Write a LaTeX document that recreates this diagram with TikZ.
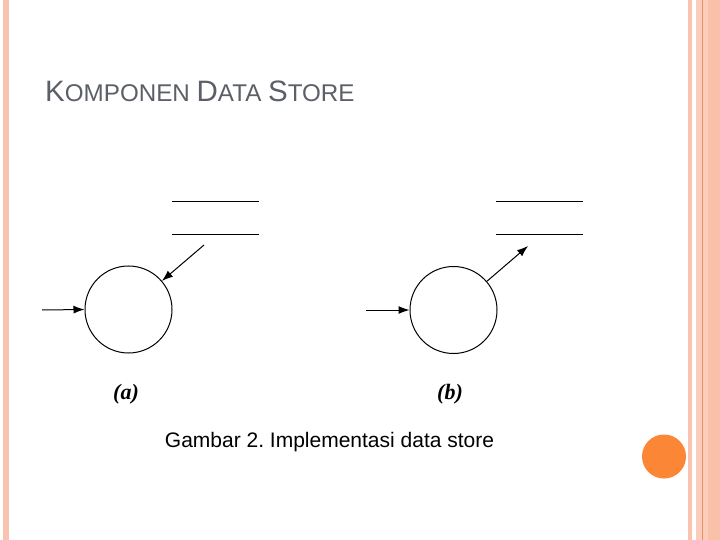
\documentclass[tikz,border=0pt]{standalone}
\usepackage{fontspec}
\setmainfont{Liberation Serif}
\newfontfamily\arialf{Liberation Sans}
\usetikzlibrary{arrows.meta}
\frenchspacing
\definecolor{stripe}{HTML}{F8C4B0}
\definecolor{band}{HTML}{FBCDBB}
\definecolor{bandb}{HTML}{F9C0AA}
\definecolor{bandline}{HTML}{E98E64}
\definecolor{dotor}{HTML}{FA8636}
\definecolor{titlegray}{HTML}{5B6068}
\tikzset{
  proc/.style={circle,draw=black,line width=1pt,minimum size=87pt,inner sep=0pt},
  flow/.style={line width=1pt,-{Latex[length=11pt,width=8pt]}},
  storeline/.style={line width=1pt},
  sublabel/.style={font=\fontsize{22}{24}\selectfont\bfseries\itshape,anchor=base},
}
\begin{document}
\begin{tikzpicture}[x=1pt,y=-1pt]
\useasboundingbox (0,0) rectangle (720,540);
\fill[white] (0,0) rectangle (720,540);
% decorative stripes
\fill[stripe] (3,0) rectangle (9,540);
\fill[stripe] (688,0) rectangle (692,540);
\fill[band] (696,0) rectangle (720,540);
\fill[bandb] (708,0) rectangle (720,540);
\fill[bandline] (701.8,0) rectangle (703.2,540);
\fill[dotor] (664,456.5) circle (22);
% title
\node[anchor=base west,inner sep=0pt,text=titlegray,font=\arialf] (title) at (45,102)
  {\fontsize{29.5}{30}\selectfont K\fontsize{24.2}{30}\selectfont OMPONEN \fontsize{29.5}{30}\selectfont D\fontsize{24.2}{30}\selectfont ATA \fontsize{29.5}{30}\selectfont S\fontsize{24.2}{30}\selectfont TORE};
% (a)
\node[proc] (ca) at (128.5,309.5) {};
\coordinate (a1l) at (172,202); \coordinate (a1r) at (259,202);
\coordinate (a2l) at (172,234); \coordinate (a2r) at (259,234);
\draw[storeline] (a1l) -- (a1r);
\draw[storeline] (a2l) -- (a2r);
\coordinate (ain) at (42,310);
\coordinate (asrc) at (204,245);
\draw[flow] (ain) -- (ca.west);
\draw[flow] (asrc) -- (ca);
\node[sublabel] (la) at (126,399) {(a)};
% (b)
\node[proc] (cb) at (453.5,310) {};
\coordinate (b1l) at (496,202); \coordinate (b1r) at (583,202);
\coordinate (b2l) at (496,234); \coordinate (b2r) at (583,234);
\draw[storeline] (b1l) -- (b1r);
\draw[storeline] (b2l) -- (b2r);
\coordinate (bin) at (366,310);
\coordinate (bdst) at (528,246);
\draw[flow] (bin) -- (cb.west);
\draw[flow] (cb) -- (bdst);
\node[sublabel] (lb) at (450,399) {(b)};
% caption
\node[anchor=base,inner sep=0pt,font=\arialf\fontsize{21}{24}\selectfont] (cap) at (329.5,447) {Gambar 2. Implementasi data store};
\end{tikzpicture}
\end{document}
